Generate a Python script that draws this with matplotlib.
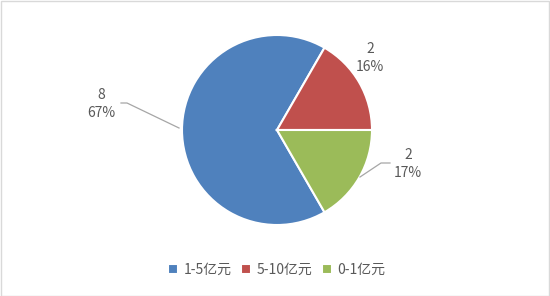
import matplotlib.pyplot as plt
from matplotlib.patches import Rectangle

plt.rcParams['font.family'] = ['Noto Sans CJK SC', 'DejaVu Sans']

categories = ['1-5亿元', '5-10亿元', '0-1亿元']
counts = [8, 2, 2]
percents = [67, 16, 17]
colors = ['#4F81BD', '#C0504D', '#9BBB59']

W, H = 550, 296
fig = plt.figure(figsize=(W / 100, H / 100), dpi=100)
ax = fig.add_axes([0, 0, 1, 1])

cx, cy, r = 277, H - 130, 95
wedges, _ = ax.pie(counts, colors=colors, startangle=-60, counterclock=False,
                   center=(cx, cy), radius=r,
                   wedgeprops=dict(edgecolor='white', linewidth=1.5))
ax.set_xlim(0, W)
ax.set_ylim(0, H)
ax.set_aspect('equal')
ax.axis('off')

# data labels and leader lines
txt = dict(color='#595959', fontsize=10, ha='center', va='center', linespacing=1.4)
lbl_pos = [(101, 104), (370, 58), (408, 164)]
for (x, y), n, p in zip(lbl_pos, counts, percents):
    ax.text(x, H - y, f"{n}\n{p}%", **txt)

line_kw = dict(color='#A6A6A6', linewidth=0.9)
ax.plot([121, 127, 179], [H - 103, H - 103, H - 128], **line_kw)
ax.plot([360, 381, 390], [H - 177, H - 163, H - 163], **line_kw)

fig.legend(wedges, categories, loc='center', bbox_to_anchor=(277 / W, 1 - 270 / H),
           ncol=3, frameon=False, fontsize=10, handlelength=0.7, handleheight=0.7,
           handletextpad=0.4, columnspacing=0.7, labelcolor='#595959')

fig.patches.append(Rectangle((0.5 / W, 0.5 / H), 1 - 1.5 / W, 1 - 1.5 / H,
                             transform=fig.transFigure, fill=False,
                             edgecolor='#D9D9D9', linewidth=1))

fig.savefig('out.png', dpi=100)
